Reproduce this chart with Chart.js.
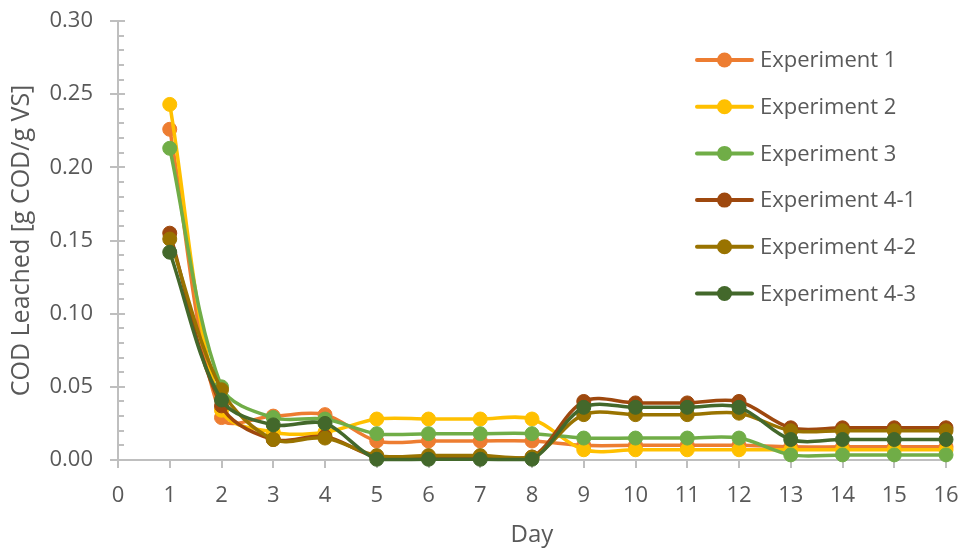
<!DOCTYPE html>
<html>
<head>
<meta charset="utf-8">
<script src="https://cdn.jsdelivr.net/npm/chart.js@4/dist/chart.umd.min.js"></script>
<style>
  html, body { margin: 0; padding: 0; background: #ffffff; }
  #wrap { width: 963px; height: 550px; position: relative; }
</style>
</head>
<body>
<div id="wrap"><canvas id="chart" width="963" height="550"></canvas></div>
<script>
// Leaching days and COD leached per experiment [g COD / g VS]
const days = [1, 2, 3, 4, 5, 6, 7, 8, 9, 10, 11, 12, 13, 14, 15, 16];

const experiment1  = [0.226, 0.029, 0.030, 0.031, 0.013, 0.013, 0.013, 0.013, 0.010, 0.010, 0.010, 0.010, 0.009, 0.009, 0.009, 0.009];
const experiment2  = [0.243, 0.034, 0.019, 0.019, 0.028, 0.028, 0.028, 0.028, 0.007, 0.007, 0.007, 0.007, 0.007, 0.007, 0.007, 0.007];
const experiment3  = [0.213, 0.050, 0.029, 0.028, 0.018, 0.018, 0.018, 0.018, 0.015, 0.015, 0.015, 0.015, 0.0035, 0.0035, 0.0035, 0.0035];
const experiment41 = [0.155, 0.037, 0.014, 0.016, 0.002, 0.002, 0.002, 0.002, 0.040, 0.039, 0.039, 0.040, 0.022, 0.022, 0.022, 0.022];
const experiment42 = [0.151, 0.048, 0.014, 0.015, 0.003, 0.003, 0.003, 0.002, 0.031, 0.031, 0.031, 0.032, 0.020, 0.020, 0.020, 0.020];
const experiment43 = [0.142, 0.041, 0.024, 0.025, 0.0005, 0.0005, 0.0005, 0.0005, 0.036, 0.036, 0.036, 0.036, 0.014, 0.014, 0.014, 0.014];

const seriesNames = ['Experiment 1', 'Experiment 2', 'Experiment 3', 'Experiment 4-1', 'Experiment 4-2', 'Experiment 4-3'];
const seriesValues = [experiment1, experiment2, experiment3, experiment41, experiment42, experiment43];
const seriesColors = ['#ED7D31', '#FFC000', '#70AD47', '#9E480E', '#997300', '#43682B'];

const yTickValues = [0, 0.05, 0.10, 0.15, 0.20, 0.25, 0.30];

const TEXT = '#595959';
const AXIS = '#BFBFBF';
const FONT = "'Open Sans', sans-serif";
const CLEAR = 'rgba(0,0,0,0)';

const datasets = seriesNames.map((name, i) => ({
  label: name,
  data: days.map((d, k) => ({ x: d, y: seriesValues[i][k] })),
  borderColor: seriesColors[i],
  backgroundColor: seriesColors[i],
  pointBackgroundColor: seriesColors[i],
  pointBorderColor: seriesColors[i],
  borderWidth: 3.5,
  pointRadius: 7,
  pointBorderWidth: 1,
  tension: 0.33,
  clip: false,
  order: seriesNames.length - 1 - i
}));

// Axis tick marks: major/minor on the value axis, one per day on the day axis
const tickMarks = {
  id: 'tickMarks',
  beforeDatasetsDraw(chart) {
    const { ctx, scales: { x, y } } = chart;
    ctx.save();
    ctx.strokeStyle = AXIS;
    ctx.lineWidth = 2;
    ctx.beginPath();
    for (let k = 0; k <= 30; k++) {
      const py = Math.round(y.getPixelForValue(k / 100));
      if (k % 5 === 0) { ctx.moveTo(x.left - 8, py); ctx.lineTo(x.left + 7, py); }
      else { ctx.moveTo(x.left, py); ctx.lineTo(x.left + 6, py); }
    }
    for (let d = 0; d <= 16; d++) {
      const px = Math.round(x.getPixelForValue(d));
      ctx.moveTo(px, y.bottom); ctx.lineTo(px, y.bottom + 8);
    }
    ctx.stroke();
    ctx.restore();
  }
};

// Series key drawn inside the plot on the right
const seriesKey = {
  id: 'seriesKey',
  afterDraw(chart) {
    const { ctx } = chart;
    ctx.save();
    ctx.font = '22px ' + FONT;
    ctx.textBaseline = 'middle';
    chart.data.datasets.forEach((ds, i) => {
      const cy = 60 + i * 46.7;
      ctx.strokeStyle = ds.borderColor;
      ctx.lineWidth = 4;
      ctx.lineCap = 'round';
      ctx.beginPath();
      ctx.moveTo(697, cy); ctx.lineTo(752, cy);
      ctx.stroke();
      ctx.fillStyle = ds.borderColor;
      ctx.beginPath();
      ctx.arc(724.5, cy, 7.5, 0, Math.PI * 2);
      ctx.fill();
      ctx.fillStyle = TEXT;
      ctx.fillText(ds.label, 760, cy + 1);
    });
    ctx.restore();
  }
};

new Chart(document.getElementById('chart'), {
  type: 'line',
  data: { datasets },
  plugins: [tickMarks, seriesKey],
  options: {
    responsive: false,
    animation: false,
    events: [],
    layout: { padding: { left: 0, right: 17, top: 21, bottom: 0 } },
    plugins: { legend: { display: false }, tooltip: { enabled: false } },
    scales: {
      x: {
        type: 'linear',
        min: 0,
        max: 16,
        afterFit(scale) { scale.height = 90; },
        ticks: { stepSize: 1, padding: 2, color: TEXT, font: { family: FONT, size: 22 }, maxRotation: 0 },
        grid: { display: true, drawOnChartArea: false, drawTicks: true, tickLength: 21, tickColor: CLEAR },
        border: { display: true, color: AXIS, width: 2 },
        title: { display: true, text: 'Day', color: TEXT, font: { family: FONT, size: 24 }, padding: { top: 0, bottom: 0 } }
      },
      y: {
        type: 'linear',
        min: 0,
        max: 0.30,
        afterFit(scale) { scale.width = 118; },
        afterBuildTicks(scale) { scale.ticks = yTickValues.map(v => ({ value: v })); },
        ticks: {
          padding: 3,
          color: TEXT,
          font: { family: FONT, size: 22 },
          callback: v => Number(v).toFixed(2)
        },
        grid: { display: true, drawOnChartArea: false, drawTicks: true, tickLength: 22, tickColor: CLEAR },
        border: { display: true, color: AXIS, width: 2 },
        title: { display: true, text: 'COD Leached [g COD/g VS]', color: TEXT, font: { family: FONT, size: 25 }, padding: { top: 7, bottom: 0 } }
      }
    }
  }
});
</script>
</body>
</html>
